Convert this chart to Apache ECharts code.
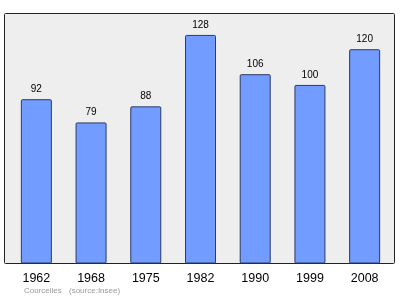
<!DOCTYPE html>
<html>
<head>
<meta charset="utf-8">
<script src="https://cdn.jsdelivr.net/npm/echarts@6/dist/echarts.min.js"></script>
<style>html,body{margin:0;padding:0;background:#fff;}#c{width:400px;height:299px;}</style>
</head>
<body>
<div id="c"></div>
<script>
var years = ['1962', '1968', '1975', '1982', '1990', '1999', '2008'];
var population = [92, 79, 88, 128, 106, 100, 120];
var footerPlace = 'Courcelles';
var footerSource = '(source:Insee)';

var chart = echarts.init(document.getElementById('c'), null, {renderer: 'canvas'});
chart.setOption({
  animation: false,
  backgroundColor: '#ffffff',
  grid: {left: 9, right: 8, top: 13.5, height: 250, containLabel: false},
  xAxis: {
    type: 'category',
    data: years,
    axisLine: {show: false},
    axisTick: {show: false},
    axisLabel: {color: '#000', fontFamily: 'Liberation Sans', fontSize: 12.5, margin: 9}
  },
  yAxis: {type: 'value', min: 0, max: 140, show: false, splitLine: {show: false}},
  graphic: [
    {type: 'rect', z: -10, shape: {x: 4.5, y: 13.5, width: 390, height: 250, r: 1},
     style: {fill: '#eeeeee', stroke: '#222222', lineWidth: 1}},
    {type: 'text', left: 24, top: 287, style: {text: footerPlace, fill: '#999999', font: '8px "Liberation Sans"'}},
    {type: 'text', left: 69, top: 287, style: {text: footerSource, fill: '#999999', font: '8px "Liberation Sans"'}}
  ],
  series: [{
    type: 'bar',
    data: population,
    barWidth: 31,
    itemStyle: {color: '#729cff', borderColor: '#2b3a66', borderWidth: 1, borderRadius: 1},
    label: {show: true, position: 'top', distance: 5, color: '#000', fontFamily: 'Liberation Sans', fontSize: 10}
  }]
});
</script>
</body>
</html>
